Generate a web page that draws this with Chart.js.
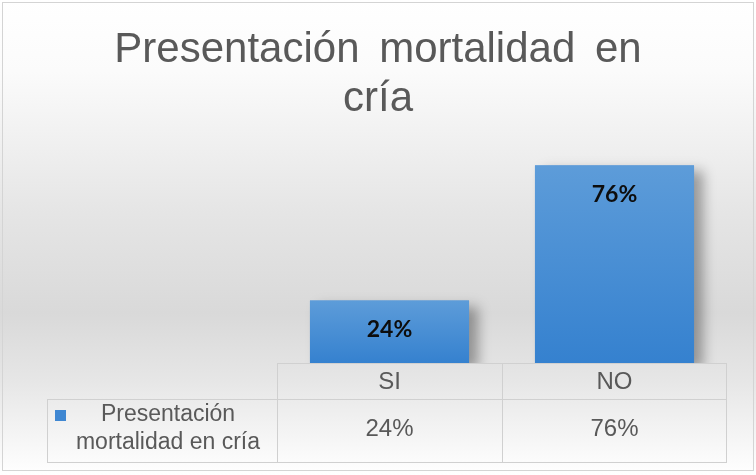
<!DOCTYPE html>
<html>
<head>
<meta charset="utf-8">
<script src="https://cdn.jsdelivr.net/npm/chart.js@4/dist/chart.umd.min.js"></script>
<style>
  html, body { margin: 0; padding: 0; background: #ffffff; }
  #grafico { display: block; }
</style>
</head>
<body>
<canvas id="grafico" width="756" height="475"></canvas>
<script>
// datos del grafico
const titulo = ['Presentación mortalidad en', 'cría'];
const categorias = ['SI', 'NO'];
const valores = [24, 76];
const etiquetas = ['24%', '76%'];
const serieNombre = ['Presentación', 'mortalidad en cría'];

const fuenteTabla = '"Liberation Sans", Arial, sans-serif';

// fondo con degradado gris
const fondo = {
    id: 'fondo',
    beforeDraw(chart) {
        const ctx = chart.ctx;
        const g = ctx.createLinearGradient(0, 0, 0, chart.height);
        g.addColorStop(0, '#ffffff');
        g.addColorStop(0.15, '#fbfbfb');
        g.addColorStop(0.45, '#e5e5e5');
        g.addColorStop(0.66, '#d9d9d9');
        g.addColorStop(0.8, '#e6e6e6');
        g.addColorStop(1, '#ffffff');
        ctx.save();
        ctx.fillStyle = g;
        ctx.fillRect(0, 0, chart.width, chart.height);
        ctx.strokeStyle = '#d4d4d4';
        ctx.lineWidth = 1;
        ctx.strokeRect(2.5, 2.5, chart.width - 5, chart.height - 7);
        ctx.restore();
    }
};

// titulo en dos lineas, centrado en todo el lienzo
const tituloGrafico = {
    id: 'tituloGrafico',
    afterDraw(chart) {
        const ctx = chart.ctx;
        const extra = 8;
        ctx.save();
        ctx.font = '42px "Liberation Sans", Arial, sans-serif';
        ctx.fillStyle = '#595959';
        ctx.textBaseline = 'alphabetic';
        ctx.textAlign = 'left';
        titulo.forEach((linea, n) => {
            const palabras = linea.split(' ');
            const esp = ctx.measureText(' ').width + extra;
            const ancho = palabras.reduce((s, p) => s + ctx.measureText(p).width, 0) + esp * (palabras.length - 1);
            let x = chart.width / 2 - ancho / 2;
            palabras.forEach(p => {
                ctx.fillText(p, x, 62 + n * 49);
                x += ctx.measureText(p).width + esp;
            });
        });
        ctx.restore();
    }
};

// sombra de las barras
const sombra = {
    id: 'sombra',
    beforeDatasetsDraw(chart) {
        const ctx = chart.ctx;
        const a = chart.chartArea;
        ctx.save();
        ctx.beginPath();
        ctx.rect(a.left, 0, a.right - a.left + 40, a.bottom);
        ctx.clip();
        ctx.shadowColor = 'rgba(0,0,0,0.35)';
        ctx.shadowBlur = 12;
        ctx.shadowOffsetX = 9;
        ctx.shadowOffsetY = 6;
        chart.getDatasetMeta(0).data.forEach(el => {
            ctx.fillStyle = '#4a8fd6';
            ctx.fillRect(el.x - el.width / 2, el.y, el.width, el.base - el.y);
        });
        ctx.restore();
    }
};

// etiquetas de valor dentro de las barras
const etiquetasBarras = {
    id: 'etiquetasBarras',
    afterDatasetsDraw(chart) {
        const ctx = chart.ctx;
        ctx.save();
        ctx.font = 'bold 23px Lato, "Open Sans", sans-serif';
        ctx.fillStyle = '#0d0d0d';
        ctx.textAlign = 'center';
        ctx.textBaseline = 'middle';
        chart.getDatasetMeta(0).data.forEach((el, i) => {
            ctx.fillText(etiquetas[i], el.x, el.y + 29);
        });
        ctx.restore();
    }
};

// tabla de datos debajo del grafico
const tablaDatos = {
    id: 'tablaDatos',
    afterDraw(chart) {
        const ctx = chart.ctx;
        const a = chart.chartArea;
        const mitad = (a.left + a.right) / 2;
        const fila1 = a.bottom;
        const fila2 = a.bottom + 36;
        const fin = a.bottom + 99;
        const izq = 47;
        ctx.save();
        ctx.strokeStyle = '#d0d0d0';
        ctx.lineWidth = 1;
        ctx.beginPath();
        ctx.moveTo(a.left + 0.5, fila1); ctx.lineTo(a.left + 0.5, fin);
        ctx.moveTo(Math.round(mitad) + 0.5, fila1); ctx.lineTo(Math.round(mitad) + 0.5, fin);
        ctx.moveTo(a.right - 0.5, fila1); ctx.lineTo(a.right - 0.5, fin);
        ctx.moveTo(a.left, fila1 + 0.5); ctx.lineTo(a.right, fila1 + 0.5);
        ctx.moveTo(izq, fila2 + 0.5); ctx.lineTo(a.right, fila2 + 0.5);
        ctx.moveTo(izq, fin + 0.5); ctx.lineTo(a.right, fin + 0.5);
        ctx.moveTo(izq + 0.5, fila2); ctx.lineTo(izq + 0.5, fin);
        ctx.stroke();

        ctx.fillStyle = '#595959';
        ctx.font = '24px ' + fuenteTabla;
        ctx.textAlign = 'center';
        ctx.textBaseline = 'middle';
        const xs = chart.scales.x;
        categorias.forEach((c, i) => {
            const x = xs.getPixelForTick(i);
            ctx.fillText(c, x, fila1 + 19);
            ctx.fillText(etiquetas[i], x, fila2 + 30);
        });

        // leyenda en la tabla
        ctx.fillStyle = '#3f87d2';
        ctx.fillRect(55, 410, 11, 11);
        ctx.fillStyle = '#595959';
        ctx.font = '23px ' + fuenteTabla;
        ctx.fillText(serieNombre[0], 168, 415);
        ctx.fillText(serieNombre[1], 168, 443);
        ctx.restore();
    }
};

const canvas = document.getElementById('grafico');
const grafico = new Chart(canvas, {
    type: 'bar',
    data: {
        labels: categorias,
        datasets: [
            {
                label: serieNombre.join(' '),
                data: valores,
                backgroundColor(c) {
                    const chart = c.chart;
                    const a = chart.chartArea;
                    if (!a || c.parsed === undefined) return '#4a8fd6';
                    const y = chart.scales.y;
                    const top = y.getPixelForValue(c.parsed.y);
                    const base = y.getPixelForValue(0);
                    const g = chart.ctx.createLinearGradient(0, top, 0, base);
                    g.addColorStop(0, '#5d9cd9');
                    g.addColorStop(1, '#3581cf');
                    return g;
                },
                borderWidth: 0,
                categoryPercentage: 1,
                barPercentage: 0.707
            }
        ]
    },
    options: {
        responsive: false,
        animation: false,
        layout: { padding: { left: 277, right: 29, top: 155, bottom: 112 } },
        scales: {
            x: { display: false },
            y: { display: false, min: 0, max: 80 }
        },
        plugins: {
            legend: { display: false },
            tooltip: { enabled: false },
            title: { display: false }
        }
    },
    plugins: [fondo, sombra, etiquetasBarras, tablaDatos, tituloGrafico]
});
</script>
</body>
</html>
